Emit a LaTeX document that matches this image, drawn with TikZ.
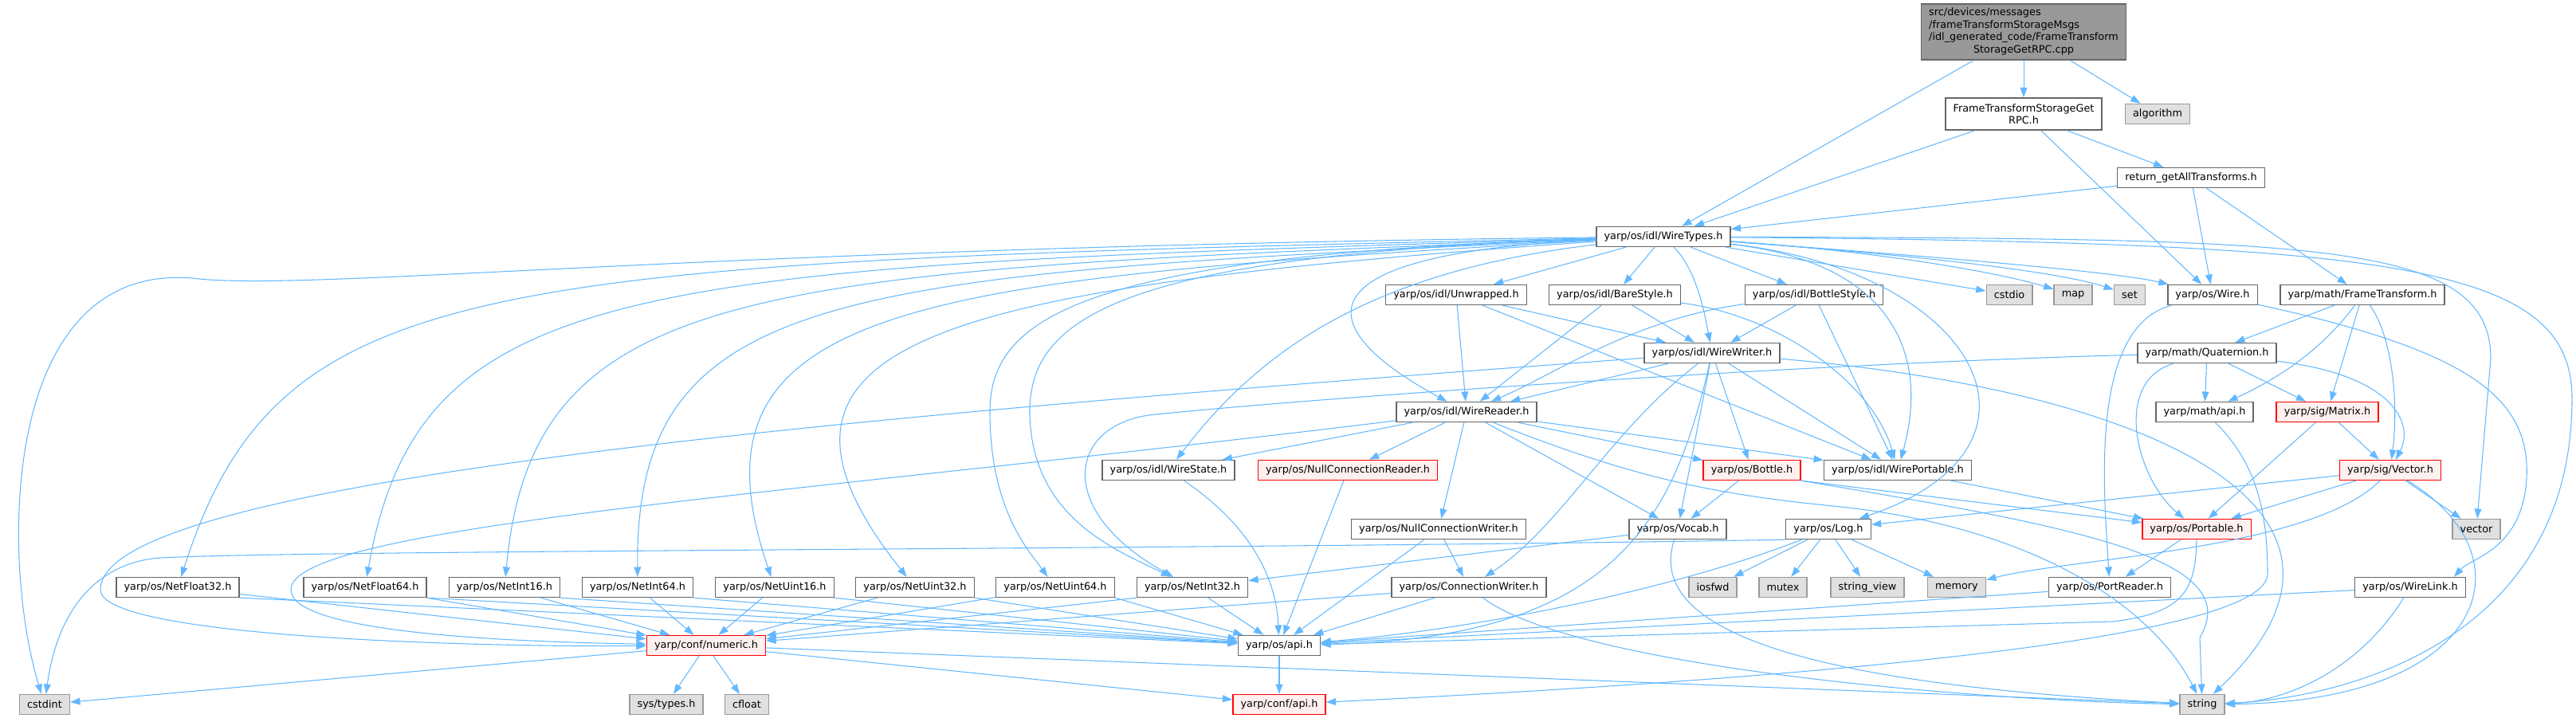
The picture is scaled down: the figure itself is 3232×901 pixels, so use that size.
\documentclass[tikz,border=0pt]{standalone}
\usepackage{fontspec}
\setmainfont{DejaVu Sans}
\usetikzlibrary{arrows.meta}

\definecolor{linkblue}{HTML}{63B8FF}
\definecolor{boxline}{HTML}{666666}
\definecolor{sysline}{HTML}{999999}
\definecolor{sysfill}{HTML}{E0E0E0}
\definecolor{redfill}{HTML}{FFF0F0}
\definecolor{mainfill}{HTML}{999999}

\tikzset{
    file/.style={draw=boxline, fill=white, line width=0.8pt, minimum height=0.5cm, inner xsep=5.5pt, inner ysep=0pt},
    sysfile/.style={file, draw=sysline, fill=sysfill},
    redfile/.style={file, draw=red, fill=redfill},
    mainfile/.style={file, fill=mainfill, minimum height=1.4cm},
    dep/.style={draw=linkblue, line width=0.6pt, -{Triangle[length=7pt,width=5pt]}},
}

\begin{document}
\begin{tikzpicture}[x=0.02cm, y=-0.02cm, font=\fontsize{7.3}{8.8}\selectfont]
    \useasboundingbox (0,0) rectangle (3232,901);

    \node[mainfile] (cpp) at (2539,40) {\begin{tabular}{@{}l@{}}src/devices/messages\\/frameTransformStorageMsgs\\/idl\_generated\_code/FrameTransform\\\multicolumn{1}{@{}c@{}}{StorageGetRPC.cpp}\end{tabular}};
    \node[file, minimum height=0.8cm, align=center] (rpc) at (2539,143) {FrameTransformStorageGet\\RPC.h};
    \node[sysfile] (algorithm) at (2707,143) {algorithm};
    \node[file] (getall) at (2749,223) {return\_getAllTransforms.h};
    \node[file] (wiretypes) at (2087,297) {yarp/os/idl/WireTypes.h};
    \node[file] (unwrapped) at (1827,370) {yarp/os/idl/Unwrapped.h};
    \node[file] (barestyle) at (2026,370) {yarp/os/idl/BareStyle.h};
    \node[file] (bottlestyle) at (2276,370) {yarp/os/idl/BottleStyle.h};
    \node[sysfile] (cstdio) at (2521,370) {cstdio};
    \node[sysfile] (map) at (2601,370) {map};
    \node[sysfile] (set) at (2672,370) {set};
    \node[file] (wire) at (2776,370) {yarp/os/Wire.h};
    \node[file] (frametf) at (2964,370) {yarp/math/FrameTransform.h};
    \node[file] (wirewriter) at (2148,443) {yarp/os/idl/WireWriter.h};
    \node[file] (quaternion) at (2769,443) {yarp/math/Quaternion.h};
    \node[file] (wirereader) at (1840,517) {yarp/os/idl/WireReader.h};
    \node[file] (mathapi) at (2766,517) {yarp/math/api.h};
    \node[redfile] (matrix) at (2920,517) {yarp/sig/Matrix.h};
    \node[file] (wirestate) at (1466,590) {yarp/os/idl/WireState.h};
    \node[redfile] (nullreader) at (1691,590) {yarp/os/NullConnectionReader.h};
    \node[redfile] (bottle) at (2198,590) {yarp/os/Bottle.h};
    \node[file] (wireportable) at (2381,590) {yarp/os/idl/WirePortable.h};
    \node[redfile] (sigvector) at (2999,590) {yarp/sig/Vector.h};
    \node[file] (nullwriter) at (1805,664) {yarp/os/NullConnectionWriter.h};
    \node[file] (vocab) at (2105,664) {yarp/os/Vocab.h};
    \node[file] (log) at (2294,664) {yarp/os/Log.h};
    \node[redfile] (portable) at (2756,664) {yarp/os/Portable.h};
    \node[sysfile] (vector) at (3107,664) {vector};
    \node[file] (netfloat32) at (223,737) {yarp/os/NetFloat32.h};
    \node[file] (netfloat64) at (458,737) {yarp/os/NetFloat64.h};
    \node[file] (netint16) at (633,737) {yarp/os/NetInt16.h};
    \node[file] (netint64) at (800,737) {yarp/os/NetInt64.h};
    \node[file] (netuint16) at (972,737) {yarp/os/NetUint16.h};
    \node[file] (netuint32) at (1148,737) {yarp/os/NetUint32.h};
    \node[file] (netuint64) at (1324,737) {yarp/os/NetUint64.h};
    \node[file] (netint32) at (1496,737) {yarp/os/NetInt32.h};
    \node[file] (connwriter) at (1843,737) {yarp/os/ConnectionWriter.h};
    \node[sysfile] (iosfwd) at (2149,737) {iosfwd};
    \node[sysfile] (mutex) at (2237,737) {mutex};
    \node[sysfile] (stringview) at (2343,737) {string\_view};
    \node[sysfile] (memory) at (2455,737) {memory};
    \node[file] (portreader) at (2647,737) {yarp/os/PortReader.h};
    \node[file] (wirelink) at (3024,737) {yarp/os/WireLink.h};
    \node[redfile] (numeric) at (886,810) {yarp/conf/numeric.h};
    \node[file] (osapi) at (1605,810) {yarp/os/api.h};
    \node[sysfile] (cstdint) at (56,884) {cstdint};
    \node[sysfile] (systypes) at (836,884) {sys/types.h};
    \node[sysfile] (cfloat) at (937,884) {cfloat};
    \node[redfile] (confapi) at (1605,884) {yarp/conf/api.h};
    \node[sysfile] (string) at (2763,884) {string};

    \draw[dep] (cpp) -- (wiretypes);
    \draw[dep] (cpp) -- (rpc);
    \draw[dep] (cpp) -- (algorithm);
    \draw[dep] (rpc) -- (wiretypes);
    \draw[dep] (rpc) -- (wire);
    \draw[dep] (rpc) -- (getall);
    \draw[dep] (getall) -- (wiretypes);
    \draw[dep] (getall) -- (wire);
    \draw[dep] (getall) -- (frametf);

    \draw[dep] (wiretypes) .. controls (900,310) and (400,365) .. (250,350) .. controls (0,320) and (0,700) .. (cstdint);
    \draw[dep] (wiretypes) .. controls (600,330) and (351,340) .. (netfloat32);
    \draw[dep] (wiretypes) .. controls (800,335) and (527,345) .. (netfloat64);
    \draw[dep] (wiretypes) .. controls (950,340) and (669,350) .. (netint16);
    \draw[dep] (wiretypes) .. controls (1050,345) and (797,360) .. (netint64);
    \draw[dep] (wiretypes) .. controls (1150,350) and (850,380) .. (netuint16);
    \draw[dep] (wiretypes) .. controls (1200,360) and (897,420) .. (netuint32);
    \draw[dep] (wiretypes) .. controls (1350,320) and (1240,400) .. (1242,520) .. controls (1243,640) and (1290,690) .. (netuint64);
    \draw[dep] (wiretypes) .. controls (1400,320) and (1290,400) .. (1292,520) .. controls (1295,650) and (1400,690) .. (netint32);
    \draw[dep] (wiretypes) .. controls (1720,340) and (1580,440) .. (wirestate);
    \draw[dep] (wiretypes) .. controls (1600,320) and (1660,420) .. (wirereader);
    \draw[dep] (wiretypes) -- (unwrapped);
    \draw[dep] (wiretypes) -- (barestyle);
    \draw[dep] (wiretypes) -- (bottlestyle);
    \draw[dep] (wiretypes) .. controls (2130,340) and (2140,400) .. (wirewriter);
    \draw[dep] (wiretypes) .. controls (2380,330) and (2420,450) .. (wireportable);
    \draw[dep] (wiretypes) -- (cstdio);
    \draw[dep] (wiretypes) .. controls (2350,315) and (2500,340) .. (map);
    \draw[dep] (wiretypes) .. controls (2400,320) and (2580,340) .. (set);
    \draw[dep] (wiretypes) .. controls (2400,320) and (2650,340) .. (wire);
    \draw[dep] (wiretypes) .. controls (2480,340) and (2600,560) .. (log);
    \draw[dep] (wiretypes) .. controls (2900,300) and (3125,300) .. (3125,450) -- (vector);
    \draw[dep] (wiretypes) .. controls (3000,305) and (3227,330) .. (3227,500) .. controls (3227,800) and (2950,875) .. (string);

    \draw[dep] (unwrapped) -- (wirereader);
    \draw[dep] (unwrapped) -- (wirewriter);
    \draw[dep] (unwrapped) -- (wireportable);
    \draw[dep] (barestyle) -- (wirereader);
    \draw[dep] (barestyle) -- (wirewriter);
    \draw[dep] (barestyle) .. controls (2230,395) and (2350,480) .. (wireportable);
    \draw[dep] (bottlestyle) .. controls (2050,400) and (1950,470) .. (wirereader);
    \draw[dep] (bottlestyle) -- (wirewriter);
    \draw[dep] (bottlestyle) -- (wireportable);

    \draw[dep] (wirewriter) -- (wirereader);
    \draw[dep] (wirewriter) .. controls (1100,520) and (126,600) .. (126,740) .. controls (126,800) and (600,812) .. (numeric);
    \draw[dep] (wirewriter) .. controls (2020,540) and (1960,660) .. (connwriter);
    \draw[dep] (wirewriter) .. controls (2100,650) and (2030,800) .. (osapi);
    \draw[dep] (wirewriter) -- (vocab);
    \draw[dep] (wirewriter) -- (bottle);
    \draw[dep] (wirewriter) -- (wireportable);
    \draw[dep] (wirewriter) .. controls (2700,490) and (3020,640) .. (string);

    \draw[dep] (wirereader) .. controls (1000,620) and (365,660) .. (365,740) .. controls (365,800) and (700,806) .. (numeric);
    \draw[dep] (wirereader) -- (wirestate);
    \draw[dep] (wirereader) -- (nullreader);
    \draw[dep] (wirereader) -- (nullwriter);
    \draw[dep] (wirereader) -- (vocab);
    \draw[dep] (wirereader) -- (bottle);
    \draw[dep] (wirereader) -- (wireportable);
    \draw[dep] (wirereader) .. controls (2050,600) and (2150,620) .. (2300,635) .. controls (2550,660) and (2700,760) .. (string);

    \draw[dep] (wirestate) .. controls (1540,640) and (1600,700) .. (osapi);
    \draw[dep] (nullreader) -- (osapi);
    \draw[dep] (nullwriter) -- (osapi);
    \draw[dep] (nullwriter) -- (connwriter);
    \draw[dep] (connwriter) -- (osapi);
    \draw[dep] (connwriter) -- (numeric);
    \draw[dep] (connwriter) .. controls (1980,840) and (2500,880) .. (string);
    \draw[dep] (bottle) -- (vocab);
    \draw[dep] (bottle.south east) -- (portable);
    \draw[dep] (bottle.south east) .. controls (2600,660) and (2820,700) .. (2760,800) -- (string);
    \draw[dep] (vocab) -- (netint32);
    \draw[dep] (vocab) .. controls (2060,800) and (2300,860) .. (string);
    \draw[dep] (wireportable) -- (portable);

    \draw[dep] (log.south west) .. controls (1500,690) and (400,690) .. (200,700) .. controls (110,708) and (70,780) .. (cstdint);
    \draw[dep] (log) .. controls (2100,740) and (1850,790) .. (osapi);
    \draw[dep] (log) -- (iosfwd);
    \draw[dep] (log) -- (mutex);
    \draw[dep] (log) -- (stringview);
    \draw[dep] (log) -- (memory);

    \draw[dep] (wire) .. controls (2620,410) and (2640,620) .. (portreader);
    \draw[dep] (wire) .. controls (3100,440) and (3175,500) .. (3170,600) .. controls (3165,690) and (3100,700) .. ([xshift=1.1cm]wirelink.north);
    \draw[dep] (frametf) -- (quaternion);
    \draw[dep] (frametf) .. controls (2920,430) and (2870,470) .. (mathapi);
    \draw[dep] (frametf) -- (matrix);
    \draw[dep] (frametf) .. controls (3000,420) and (3010,500) .. (sigvector);
    \draw[dep] (quaternion) .. controls (2300,455) and (1700,495) .. (1450,520) .. controls (1340,530) and (1320,640) .. (netint32);
    \draw[dep] (quaternion) -- (mathapi);
    \draw[dep] (quaternion) -- (matrix);
    \draw[dep] (quaternion) .. controls (3000,470) and (3030,530) .. (sigvector);
    \draw[dep] (quaternion) .. controls (2650,480) and (2680,600) .. (portable);
    \draw[dep] (mathapi) .. controls (2830,580) and (2845,640) .. (2845,720) .. controls (2845,800) and (2300,850) .. (confapi);
    \draw[dep] (matrix) -- (portable);
    \draw[dep] (matrix) -- (sigvector);
    \draw[dep] (sigvector) -- (log);
    \draw[dep] (sigvector) -- (portable);
    \draw[dep] (sigvector) .. controls (2900,690) and (2600,700) .. (memory);
    \draw[dep] (sigvector) -- (vector);
    \draw[dep] (sigvector) .. controls (3180,700) and (3120,880) .. (string);
    \draw[dep] (portable) -- (portreader);
    \draw[dep] (portable) .. controls (2755,740) and (2740,770) .. (2650,780) -- (osapi);
    \draw[dep] (portreader) -- (osapi);
    \draw[dep] (wirelink) -- (osapi);
    \draw[dep] (wirelink) .. controls (2960,840) and (2870,880) .. (string);

    \draw[dep] (netfloat32) -- (numeric);
    \draw[dep] (netfloat32.south east) -- (osapi);
    \draw[dep] (netfloat64) -- (numeric);
    \draw[dep] (netfloat64.south east) -- (osapi);
    \draw[dep] (netint16) -- (numeric);
    \draw[dep] (netint16.south east) -- (osapi);
    \draw[dep] (netint64) -- (numeric);
    \draw[dep] (netint64.south east) -- (osapi);
    \draw[dep] (netuint16) -- (numeric);
    \draw[dep] (netuint16.south east) -- (osapi);
    \draw[dep] (netuint32) -- (numeric);
    \draw[dep] (netuint32.south east) -- (osapi);
    \draw[dep] (netuint64) -- (numeric);
    \draw[dep] (netuint64.south east) -- (osapi);
    \draw[dep] (netint32.south west) -- (numeric);
    \draw[dep] (netint32) -- (osapi);

    \draw[dep] (numeric) -- (cstdint);
    \draw[dep] (numeric) -- (systypes);
    \draw[dep] (numeric) -- (cfloat);
    \draw[dep] (numeric) -- (confapi);
    \draw[dep] (numeric) -- (string);
    \draw[dep] (osapi) -- (confapi);
\end{tikzpicture}
\end{document}
